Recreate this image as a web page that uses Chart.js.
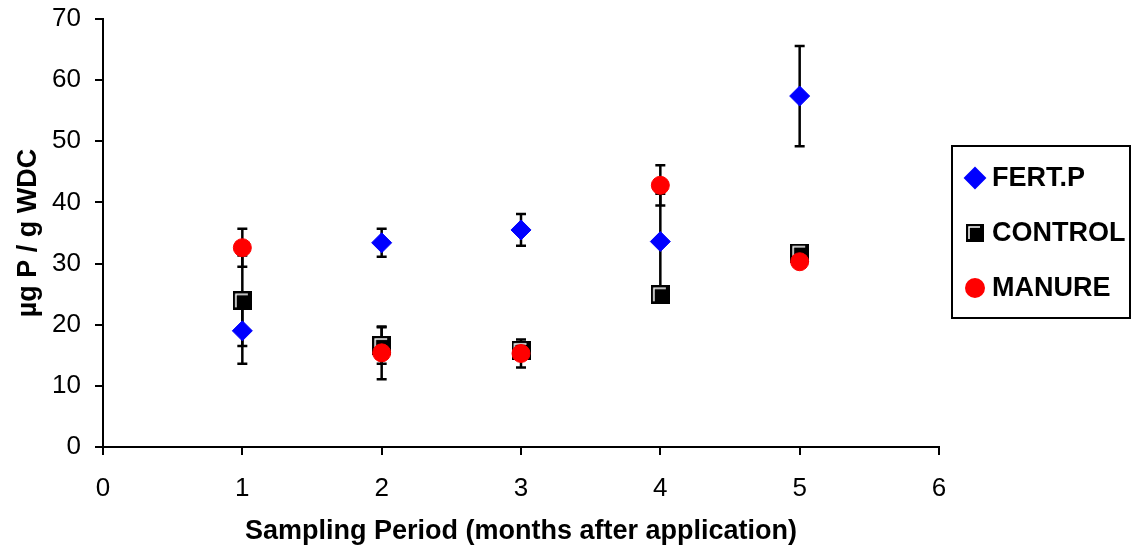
<!DOCTYPE html>
<html>
<head>
<meta charset="utf-8">
<script src="https://cdn.jsdelivr.net/npm/chart.js@4/dist/chart.umd.min.js"></script>
<style>
  html, body { margin: 0; padding: 0; background: #fff; }
  #wrap { width: 1138px; height: 554px; position: relative; }
</style>
</head>
<body>
<div id="wrap"><canvas id="chart"></canvas></div>
<script>
// ---------- data ----------
const months = [1, 2, 3, 4, 5];

const fertP      = [19.0, 33.4, 35.5, 33.6, 57.4];
const fertPErr   = [5.4, 2.3, 2.6, 7.8, 8.2];

const control    = [23.9, 16.6, 15.8, 24.9, 31.7];
const controlErr = [7.4, 3.0, 1.2, 0.8, 0.6];

const manure     = [32.6, 15.4, 15.3, 42.8, 30.3];
const manureErr  = [3.1, 4.3, 2.3, 3.3, 0.5];

const yTicks = [0, 10, 20, 30, 40, 50, 60, 70];
const xTicks = [0, 1, 2, 3, 4, 5, 6];

const FONT = "'Liberation Sans', Arial, Helvetica, sans-serif";

// ---------- Excel-ish black square with the white bevel line ----------
function makeSquare(size) {
  const c = document.createElement("canvas");
  c.width = size; c.height = size;
  const g = c.getContext("2d");
  g.fillStyle = "#000";
  g.fillRect(0, 0, size, size);
  g.strokeStyle = "#fff";
  g.lineWidth = 1.5;
  g.beginPath();
  g.moveTo(3, size - 3);
  g.lineTo(3, 3);
  g.lineTo(size - 4, 3);
  g.stroke();
  return c;
}
const squareImg = makeSquare(19);
const squareSmall = makeSquare(18);

const toPts = (vals) => vals.map((v, i) => ({ x: months[i], y: v }));

const series = [
  { label: "FERT.P", data: fertP, err: fertPErr, style: "rectRot", radius: 10, color: "#0000ff", order: 2 },
  { label: "CONTROL", data: control, err: controlErr, style: squareImg, radius: 9, color: "#000000", order: 1 },
  { label: "MANURE", data: manure, err: manureErr, style: "circle", radius: 9, color: "#ff0000", order: 0 },
];

// ---------- error bars, drawn under the markers ----------
const errorBars = {
  id: "errorBars",
  beforeDatasetsDraw(chart) {
    const { ctx, scales: { x, y } } = chart;
    ctx.save();
    ctx.strokeStyle = "#000";
    ctx.lineWidth = 2.5;
    series.forEach((s) => {
      s.data.forEach((v, i) => {
        const px = x.getPixelForValue(months[i]);
        const top = y.getPixelForValue(v + s.err[i]);
        const bot = y.getPixelForValue(v - s.err[i]);
        ctx.beginPath();
        ctx.moveTo(px, top); ctx.lineTo(px, bot);
        ctx.moveTo(px - 5, top); ctx.lineTo(px + 5, top);
        ctx.moveTo(px - 5, bot); ctx.lineTo(px + 5, bot);
        ctx.stroke();
      });
    });
    ctx.restore();
  },
};

// ---------- boxed legend at the right, like the spreadsheet original ----------
const boxLegend = {
  id: "boxLegend",
  afterDraw(chart, args, opts) {
    const ctx = chart.ctx;
    ctx.save();
    ctx.strokeStyle = "#000";
    ctx.lineWidth = 2;
    ctx.strokeRect(opts.x, opts.y, opts.w, opts.h);
    ctx.font = "bold 27px " + FONT;
    ctx.fillStyle = "#000";
    ctx.textBaseline = "middle";
    series.forEach((s, i) => {
      const cy = opts.y + opts.first + i * opts.gap;
      const cx = opts.x + 23;
      ctx.fillStyle = s.color;
      ctx.strokeStyle = s.color;
      const st = s.style === squareImg ? squareSmall : s.style;
      Chart.helpers.drawPoint(ctx, { pointStyle: st, radius: s.radius, borderWidth: 1 }, cx, cy);
      ctx.fillStyle = "#000";
      ctx.fillText(s.label, opts.x + 40, cy + 1);
    });
    ctx.restore();
  },
};

new Chart(document.getElementById("chart"), {
  type: "scatter",
  data: {
    datasets: series.map((s) => ({
      label: s.label,
      data: toPts(s.data),
      pointStyle: s.style,
      pointRadius: s.radius,
      pointHoverRadius: s.radius,
      backgroundColor: s.color,
      borderColor: s.color,
      borderWidth: 1,
      order: s.order,
    })),
  },
  options: {
    responsive: true, maintainAspectRatio: false, animation: false,
    layout: { padding: { top: 19, right: 199, left: 0, bottom: 0 } },
    plugins: {
      legend: { display: false },
      tooltip: { enabled: false },
      boxLegend: { x: 952, y: 146, w: 178, h: 172, first: 32, gap: 55 },
    },
    scales: {
      x: {
        type: "linear", min: 0, max: 6,
        afterBuildTicks: (sc) => { sc.ticks = xTicks.map((v) => ({ value: v })); },
        afterFit: (sc) => { sc.height = 107; },
        grid: { drawOnChartArea: false, drawTicks: true, tickLength: 8, color: "#000", lineWidth: 2 },
        border: { color: "#000", width: 2 },
        ticks: { color: "#000", font: { family: FONT, size: 26 }, padding: 18, maxRotation: 0 },
        title: { display: true, text: "Sampling Period (months after application)", color: "#000",
                 font: { family: FONT, size: 27, weight: "bold" }, padding: { top: 4, bottom: 6 } },
      },
      y: {
        type: "linear", min: 0, max: 70,
        afterBuildTicks: (sc) => { sc.ticks = yTicks.map((v) => ({ value: v })); },
        afterFit: (sc) => { sc.width = 103; sc.paddingTop = 0; sc.paddingBottom = 0; },
        grid: { drawOnChartArea: false, drawTicks: true, tickLength: 8, color: "#000", lineWidth: 2 },
        border: { color: "#000", width: 2 },
        ticks: { color: "#000", font: { family: FONT, size: 26 }, padding: 14 },
        title: { display: true, text: "µg P / g WDC", color: "#000",
                 font: { family: FONT, size: 27, weight: "bold" }, padding: { top: 12, bottom: 4 } },
      },
    },
  },
  plugins: [errorBars, boxLegend],
});
</script>
</body>
</html>
